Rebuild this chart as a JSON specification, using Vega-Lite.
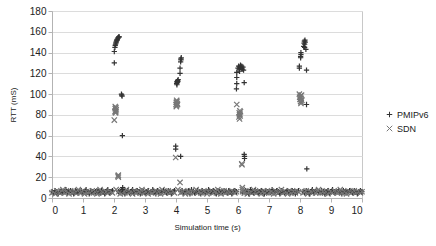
{
  "$schema": "https://vega.github.io/schema/vega-lite/v6.json",
  "autosize": "none",
  "width": 310,
  "height": 187,
  "padding": {"left": 52, "top": 11, "right": 74, "bottom": 48},
  "background": "white",
  "config": {
    "font": "Liberation Sans",
    "view": {"stroke": "#c8c8c8", "strokeWidth": 1}
  },
  "data": {"values": [
    {"t":0,"PMIPv6":6,"SDN":5},{"t":0.05,"PMIPv6":5,"SDN":6},{"t":0.1,"PMIPv6":7,"SDN":4},{"t":0.15,"PMIPv6":6,"SDN":7},{"t":0.2,"PMIPv6":4,"SDN":6},{"t":0.25,"PMIPv6":6,"SDN":5},{"t":0.3,"PMIPv6":7,"SDN":6},{"t":0.35,"PMIPv6":5,"SDN":8},{"t":0.4,"PMIPv6":6,"SDN":5},{"t":0.45,"PMIPv6":8,"SDN":6},
    {"t":0.5,"PMIPv6":5,"SDN":6},{"t":0.55,"PMIPv6":6,"SDN":4},{"t":0.6,"PMIPv6":7,"SDN":7},{"t":0.65,"PMIPv6":6,"SDN":5},{"t":0.7,"PMIPv6":4,"SDN":6},{"t":0.75,"PMIPv6":7,"SDN":6},{"t":0.8,"PMIPv6":6,"SDN":5},{"t":0.85,"PMIPv6":5,"SDN":8},{"t":0.9,"PMIPv6":6,"SDN":5},{"t":0.95,"PMIPv6":7,"SDN":6},
    {"t":1.0,"PMIPv6":5,"SDN":7},{"t":1.05,"PMIPv6":6,"SDN":4},{"t":1.1,"PMIPv6":8,"SDN":6},{"t":1.15,"PMIPv6":6,"SDN":5},{"t":1.2,"PMIPv6":4,"SDN":6},{"t":1.25,"PMIPv6":7,"SDN":6},{"t":1.3,"PMIPv6":6,"SDN":7},{"t":1.35,"PMIPv6":5,"SDN":5},{"t":1.4,"PMIPv6":6,"SDN":6},{"t":1.45,"PMIPv6":7,"SDN":4},
    {"t":1.5,"PMIPv6":6,"SDN":5},{"t":1.55,"PMIPv6":5,"SDN":8},{"t":1.6,"PMIPv6":7,"SDN":6},{"t":1.65,"PMIPv6":6,"SDN":5},{"t":1.7,"PMIPv6":4,"SDN":7},{"t":1.75,"PMIPv6":6,"SDN":6},{"t":1.8,"PMIPv6":8,"SDN":5},{"t":1.85,"PMIPv6":5,"SDN":6},{"t":1.9,"PMIPv6":6,"SDN":6},{"t":1.95,"PMIPv6":7,"SDN":5},
    {"t":2.15,"PMIPv6":6,"SDN":6},{"t":2.2,"PMIPv6":5,"SDN":4},{"t":2.25,"PMIPv6":7,"SDN":7},{"t":2.3,"PMIPv6":6,"SDN":6},{"t":2.35,"PMIPv6":4,"SDN":5},{"t":2.4,"PMIPv6":6,"SDN":8},{"t":2.45,"PMIPv6":7,"SDN":5},{"t":2.5,"PMIPv6":5,"SDN":6},{"t":2.55,"PMIPv6":6,"SDN":6},{"t":2.6,"PMIPv6":8,"SDN":4},
    {"t":2.65,"PMIPv6":5,"SDN":7},{"t":2.7,"PMIPv6":6,"SDN":5},{"t":2.75,"PMIPv6":7,"SDN":6},{"t":2.8,"PMIPv6":6,"SDN":6},{"t":2.85,"PMIPv6":4,"SDN":5},{"t":2.9,"PMIPv6":7,"SDN":8},{"t":2.95,"PMIPv6":6,"SDN":5},{"t":3.0,"PMIPv6":5,"SDN":6},{"t":3.05,"PMIPv6":6,"SDN":7},{"t":3.1,"PMIPv6":7,"SDN":4},
    {"t":3.15,"PMIPv6":5,"SDN":6},{"t":3.2,"PMIPv6":6,"SDN":5},{"t":3.25,"PMIPv6":8,"SDN":6},{"t":3.3,"PMIPv6":6,"SDN":6},{"t":3.35,"PMIPv6":4,"SDN":7},{"t":3.4,"PMIPv6":7,"SDN":5},{"t":3.45,"PMIPv6":6,"SDN":6},{"t":3.5,"PMIPv6":5,"SDN":4},{"t":3.55,"PMIPv6":6,"SDN":8},{"t":3.6,"PMIPv6":7,"SDN":6},
    {"t":3.65,"PMIPv6":6,"SDN":5},{"t":3.7,"PMIPv6":5,"SDN":6},{"t":3.75,"PMIPv6":7,"SDN":7},{"t":3.8,"PMIPv6":6,"SDN":5},{"t":3.85,"PMIPv6":4,"SDN":6},{"t":3.9,"PMIPv6":6,"SDN":6},{"t":3.95,"PMIPv6":7,"SDN":5},
    {"t":4.15,"PMIPv6":6,"SDN":5},{"t":4.2,"PMIPv6":7,"SDN":6},{"t":4.25,"PMIPv6":5,"SDN":7},{"t":4.3,"PMIPv6":6,"SDN":4},{"t":4.35,"PMIPv6":6,"SDN":6},{"t":4.4,"PMIPv6":7,"SDN":6},{"t":4.45,"PMIPv6":4,"SDN":5},{"t":4.5,"PMIPv6":8,"SDN":7},{"t":4.55,"PMIPv6":6,"SDN":5},{"t":4.6,"PMIPv6":5,"SDN":6},
    {"t":4.65,"PMIPv6":6,"SDN":8},{"t":4.7,"PMIPv6":7,"SDN":5},{"t":4.75,"PMIPv6":6,"SDN":6},{"t":4.8,"PMIPv6":4,"SDN":5},{"t":4.85,"PMIPv6":7,"SDN":6},{"t":4.9,"PMIPv6":6,"SDN":7},{"t":4.95,"PMIPv6":5,"SDN":6},{"t":5.0,"PMIPv6":6,"SDN":4},{"t":5.05,"PMIPv6":8,"SDN":6},{"t":5.1,"PMIPv6":5,"SDN":6},
    {"t":5.15,"PMIPv6":6,"SDN":7},{"t":5.2,"PMIPv6":7,"SDN":5},{"t":5.25,"PMIPv6":6,"SDN":6},{"t":5.3,"PMIPv6":4,"SDN":5},{"t":5.35,"PMIPv6":7,"SDN":8},{"t":5.4,"PMIPv6":6,"SDN":6},{"t":5.45,"PMIPv6":5,"SDN":4},{"t":5.5,"PMIPv6":6,"SDN":6},{"t":5.55,"PMIPv6":7,"SDN":7},{"t":5.6,"PMIPv6":6,"SDN":5},
    {"t":5.65,"PMIPv6":5,"SDN":6},{"t":5.7,"PMIPv6":7,"SDN":6},{"t":5.75,"PMIPv6":6,"SDN":5},{"t":5.8,"PMIPv6":4,"SDN":7},{"t":5.85,"PMIPv6":6,"SDN":6},{"t":5.9,"PMIPv6":7,"SDN":5},{"t":5.95,"PMIPv6":6,"SDN":6},
    {"t":6.15,"PMIPv6":5,"SDN":6},{"t":6.2,"PMIPv6":6,"SDN":5},{"t":6.25,"PMIPv6":7,"SDN":7},{"t":6.3,"PMIPv6":6,"SDN":4},{"t":6.35,"PMIPv6":4,"SDN":6},{"t":6.4,"PMIPv6":8,"SDN":6},{"t":6.45,"PMIPv6":6,"SDN":5},{"t":6.5,"PMIPv6":5,"SDN":8},{"t":6.55,"PMIPv6":7,"SDN":6},{"t":6.6,"PMIPv6":6,"SDN":5},
    {"t":6.65,"PMIPv6":5,"SDN":6},{"t":6.7,"PMIPv6":6,"SDN":7},{"t":6.75,"PMIPv6":7,"SDN":4},{"t":6.8,"PMIPv6":6,"SDN":6},{"t":6.85,"PMIPv6":4,"SDN":5},{"t":6.9,"PMIPv6":7,"SDN":6},{"t":6.95,"PMIPv6":6,"SDN":7},{"t":7.0,"PMIPv6":5,"SDN":5},{"t":7.05,"PMIPv6":6,"SDN":6},{"t":7.1,"PMIPv6":8,"SDN":6},
    {"t":7.15,"PMIPv6":5,"SDN":4},{"t":7.2,"PMIPv6":6,"SDN":7},{"t":7.25,"PMIPv6":7,"SDN":6},{"t":7.3,"PMIPv6":6,"SDN":5},{"t":7.35,"PMIPv6":4,"SDN":6},{"t":7.4,"PMIPv6":7,"SDN":8},{"t":7.45,"PMIPv6":6,"SDN":5},{"t":7.5,"PMIPv6":5,"SDN":6},{"t":7.55,"PMIPv6":6,"SDN":6},{"t":7.6,"PMIPv6":7,"SDN":4},
    {"t":7.65,"PMIPv6":6,"SDN":7},{"t":7.7,"PMIPv6":5,"SDN":5},{"t":7.75,"PMIPv6":7,"SDN":6},{"t":7.8,"PMIPv6":6,"SDN":6},{"t":7.85,"PMIPv6":4,"SDN":5},{"t":7.9,"PMIPv6":6,"SDN":7},{"t":7.95,"PMIPv6":7,"SDN":6},
    {"t":8.1,"PMIPv6":6,"SDN":5},{"t":8.15,"PMIPv6":5,"SDN":6},{"t":8.2,"PMIPv6":7,"SDN":7},{"t":8.25,"PMIPv6":6,"SDN":4},{"t":8.3,"PMIPv6":4,"SDN":6},{"t":8.35,"PMIPv6":6,"SDN":6},{"t":8.4,"PMIPv6":8,"SDN":5},{"t":8.45,"PMIPv6":5,"SDN":7},{"t":8.5,"PMIPv6":6,"SDN":5},{"t":8.55,"PMIPv6":7,"SDN":6},
    {"t":8.6,"PMIPv6":6,"SDN":8},{"t":8.65,"PMIPv6":5,"SDN":5},{"t":8.7,"PMIPv6":7,"SDN":6},{"t":8.75,"PMIPv6":6,"SDN":6},{"t":8.8,"PMIPv6":4,"SDN":5},{"t":8.85,"PMIPv6":6,"SDN":7},{"t":8.9,"PMIPv6":7,"SDN":4},{"t":8.95,"PMIPv6":5,"SDN":6},{"t":9.0,"PMIPv6":6,"SDN":6},{"t":9.05,"PMIPv6":8,"SDN":5},
    {"t":9.1,"PMIPv6":6,"SDN":7},{"t":9.15,"PMIPv6":5,"SDN":6},{"t":9.2,"PMIPv6":6,"SDN":5},{"t":9.25,"PMIPv6":7,"SDN":6},{"t":9.3,"PMIPv6":6,"SDN":8},{"t":9.35,"PMIPv6":4,"SDN":5},{"t":9.4,"PMIPv6":7,"SDN":6},{"t":9.45,"PMIPv6":6,"SDN":6},{"t":9.5,"PMIPv6":5,"SDN":4},{"t":9.55,"PMIPv6":6,"SDN":7},
    {"t":9.6,"PMIPv6":7,"SDN":6},{"t":9.65,"PMIPv6":6,"SDN":5},{"t":9.7,"PMIPv6":5,"SDN":6},{"t":9.75,"PMIPv6":7,"SDN":7},{"t":9.8,"PMIPv6":6,"SDN":5},{"t":9.85,"PMIPv6":4,"SDN":6},{"t":9.9,"PMIPv6":6,"SDN":6},{"t":9.95,"PMIPv6":7,"SDN":5},{"t":10.0,"PMIPv6":6,"SDN":6},

    {"t":2.01,"PMIPv6":130},{"t":2.01,"PMIPv6":141},{"t":2.03,"PMIPv6":145},{"t":2.04,"PMIPv6":147},{"t":2.05,"PMIPv6":148},{"t":2.06,"PMIPv6":149},{"t":2.07,"PMIPv6":150},{"t":2.08,"PMIPv6":151},{"t":2.09,"PMIPv6":152},{"t":2.1,"PMIPv6":152},{"t":2.11,"PMIPv6":153},{"t":2.12,"PMIPv6":154},{"t":2.14,"PMIPv6":154},{"t":2.15,"PMIPv6":155},{"t":2.17,"PMIPv6":155},
    {"t":2.24,"PMIPv6":100},{"t":2.25,"PMIPv6":99},{"t":2.26,"PMIPv6":98},{"t":2.27,"PMIPv6":60},{"t":2.28,"PMIPv6":10},{"t":2.27,"PMIPv6":8},
    {"t":2.01,"SDN":75},{"t":2.03,"SDN":83},{"t":2.04,"SDN":86},{"t":2.05,"SDN":84},{"t":2.06,"SDN":87},{"t":2.05,"SDN":82},{"t":2.07,"SDN":85},{"t":2.04,"SDN":88},{"t":2.06,"SDN":83},
    {"t":2.14,"SDN":20},{"t":2.14,"SDN":22},{"t":2.13,"SDN":21},{"t":2.07,"SDN":8},

    {"t":3.99,"PMIPv6":47},{"t":3.99,"PMIPv6":50},{"t":4.15,"PMIPv6":40},{"t":4.02,"PMIPv6":110},{"t":4.03,"PMIPv6":112},{"t":4.04,"PMIPv6":111},{"t":4.05,"PMIPv6":113},{"t":4.06,"PMIPv6":112},{"t":4.07,"PMIPv6":114},{"t":4.03,"PMIPv6":109},
    {"t":4.13,"PMIPv6":120},{"t":4.13,"PMIPv6":125},{"t":4.15,"PMIPv6":131},{"t":4.16,"PMIPv6":133},{"t":4.17,"PMIPv6":135},{"t":4.16,"PMIPv6":134},
    {"t":3.99,"SDN":39},{"t":4.13,"SDN":15},{"t":4.0,"SDN":90},{"t":4.01,"SDN":92},{"t":4.02,"SDN":89},{"t":4.03,"SDN":93},{"t":4.04,"SDN":91},{"t":4.02,"SDN":94},{"t":4.05,"SDN":90},{"t":4.01,"SDN":88},{"t":4.06,"SDN":8},

    {"t":6.0,"PMIPv6":125},{"t":6.02,"PMIPv6":127},{"t":6.04,"PMIPv6":124},{"t":6.06,"PMIPv6":126},{"t":6.08,"PMIPv6":128},{"t":6.1,"PMIPv6":125},{"t":6.12,"PMIPv6":127},{"t":6.14,"PMIPv6":124},{"t":6.16,"PMIPv6":126},{"t":6.05,"PMIPv6":122},{"t":6.18,"PMIPv6":123},
    {"t":5.96,"PMIPv6":121},{"t":5.96,"PMIPv6":116},{"t":5.96,"PMIPv6":110},{"t":5.95,"PMIPv6":105},{"t":6.2,"PMIPv6":111},{"t":6.21,"PMIPv6":40},{"t":6.21,"PMIPv6":38},{"t":6.2,"PMIPv6":42},
    {"t":5.96,"SDN":90},{"t":6.03,"SDN":78},{"t":6.04,"SDN":82},{"t":6.05,"SDN":80},{"t":6.06,"SDN":84},{"t":6.07,"SDN":79},{"t":6.08,"SDN":83},{"t":6.05,"SDN":76},{"t":6.06,"SDN":81},
    {"t":6.12,"SDN":33},{"t":6.13,"SDN":32},{"t":6.14,"SDN":10},{"t":6.14,"SDN":8},

    {"t":8.12,"PMIPv6":146},{"t":8.13,"PMIPv6":149},{"t":8.14,"PMIPv6":151},{"t":8.15,"PMIPv6":148},{"t":8.16,"PMIPv6":152},{"t":8.17,"PMIPv6":150},{"t":8.15,"PMIPv6":145},{"t":8.19,"PMIPv6":143},
    {"t":8.02,"PMIPv6":136},{"t":8.03,"PMIPv6":138},{"t":8.03,"PMIPv6":140},{"t":8.02,"PMIPv6":135},{"t":7.98,"PMIPv6":127},{"t":7.98,"PMIPv6":125},{"t":8.21,"PMIPv6":123},{"t":8.22,"PMIPv6":28},{"t":8.21,"PMIPv6":90},
    {"t":7.98,"SDN":100},{"t":7.99,"SDN":97},{"t":8.0,"SDN":95},{"t":8.01,"SDN":98},{"t":8.02,"SDN":93},{"t":8.03,"SDN":96},{"t":8.04,"SDN":92},{"t":8.05,"SDN":99},{"t":8.06,"SDN":94},{"t":8.03,"SDN":91}
  ]},
  "transform": [
    {"fold": ["PMIPv6", "SDN"], "as": ["series", "rtt"]},
    {"filter": "isValid(datum.rtt)"}
  ],
  "mark": {"type": "point", "filled": false, "strokeWidth": 1.2, "size": 28, "opacity": 1},
  "encoding": {
    "x": {
      "field": "t", "type": "quantitative",
      "scale": {"domain": [0, 10], "nice": false, "zero": false},
      "axis": {
        "title": "Simulation time (s)",
        "values": [0,1,2,3,4,5,6,7,8,9,10],
        "grid": false,
        "domainColor": "#b3b3b3",
        "tickColor": "#b3b3b3",
        "tickSize": 4,
        "labelFontSize": 10,
        "labelColor": "#222222",
        "labelPadding": 3,
        "titleFontSize": 8,
        "titleFontWeight": "normal",
        "titleColor": "#222222",
        "titlePadding": 8
      }
    },
    "y": {
      "field": "rtt", "type": "quantitative",
      "scale": {"domain": [0, 180], "nice": false},
      "axis": {
        "title": "RTT (mS)",
        "values": [0,20,40,60,80,100,120,140,160,180],
        "grid": true,
        "gridColor": "#dcdcdc",
        "domainColor": "#b3b3b3",
        "tickColor": "#b3b3b3",
        "tickSize": 4,
        "labelFontSize": 10,
        "labelColor": "#222222",
        "labelPadding": 2,
        "titleFontSize": 8,
        "titleFontWeight": "normal",
        "titleColor": "#222222",
        "titlePadding": 12
      }
    },
    "color": {
      "field": "series", "type": "nominal",
      "scale": {"domain": ["PMIPv6", "SDN"], "range": ["#333333", "#777777"]},
      "legend": {
        "title": null,
        "orient": "none",
        "legendX": 333,
        "legendY": 99,
        "labelFontSize": 9,
        "labelColor": "#222222",
        "symbolSize": 30,
        "symbolStrokeWidth": 1,
        "rowPadding": 3,
        "labelOffset": 3
      }
    },
    "shape": {
      "field": "series", "type": "nominal",
      "scale": {"domain": ["PMIPv6", "SDN"], "range": ["M-1,0H1M0,-1V1", "M-1,-1L1,1M-1,1L1,-1"]}
    }
  }
}
